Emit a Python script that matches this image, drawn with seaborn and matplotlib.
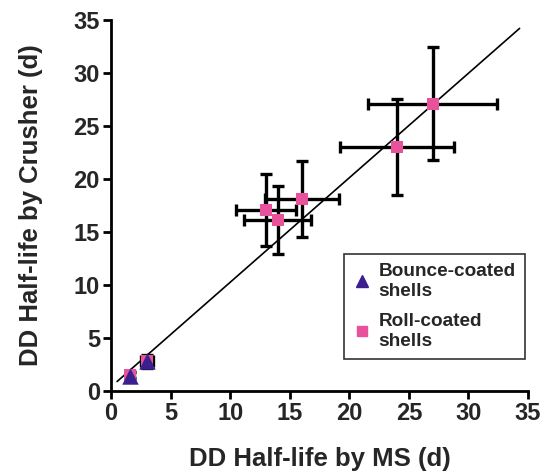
import matplotlib
matplotlib.use("Agg")
import matplotlib.pyplot as plt
import seaborn as sns
import pandas as pd
import numpy as np
from matplotlib.lines import Line2D

# Data
roll_ms = [13.0, 14.0, 16.0, 24.0, 27.0, 1.6, 3.0]
roll_crusher = [17.1, 16.1, 18.1, 23.0, 27.1, 1.5, 2.8]
roll_ms_err = [2.5, 2.8, 3.1, 4.8, 5.4, 0.3, 0.5]
roll_cr_err = [3.4, 3.2, 3.55, 4.55, 5.35, 0.3, 0.6]

bounce_ms = [1.6, 3.0]
bounce_crusher = [1.4, 2.8]

fit_x = [0.5, 34.3]
fit_y = [0.9, 34.2]

x_ticks = [0, 5, 10, 15, 20, 25, 30, 35]
y_ticks = [0, 5, 10, 15, 20, 25, 30, 35]

pink = "#e8529b"
navy = "#3b1f8f"

sns.set_theme(style="ticks")
plt.rcParams["font.family"] = ["Liberation Sans", "DejaVu Sans"]
plt.rcParams["font.weight"] = "bold"

fig = plt.figure(figsize=(5.42, 4.74), dpi=100)
ax = fig.add_axes([0.205, 0.175, 0.769, 0.783])

sns.lineplot(x=fit_x, y=fit_y, ax=ax, color="black", linewidth=1.2, zorder=1)

ax.errorbar(roll_ms, roll_crusher, xerr=roll_ms_err, yerr=roll_cr_err,
            fmt="none", ecolor="black", elinewidth=2.4, capsize=4, capthick=2.4, zorder=2)

df_roll = pd.DataFrame({"ms": roll_ms, "cr": roll_crusher})
sns.scatterplot(data=df_roll, x="ms", y="cr", ax=ax, marker="s", s=85,
                color=pink, edgecolor=pink, linewidth=0, zorder=3)
df_b = pd.DataFrame({"ms": bounce_ms, "cr": bounce_crusher})
sns.scatterplot(data=df_b, x="ms", y="cr", ax=ax, marker="^", s=140,
                color=navy, edgecolor=navy, linewidth=0, zorder=4)

ax.set_xlim(0, 35)
ax.set_ylim(0, 35)
ax.set_xticks(x_ticks)
ax.set_yticks(y_ticks)
ax.set_xticklabels([str(t) for t in x_ticks], fontsize=17, fontweight="bold")
ax.set_yticklabels([str(t) for t in y_ticks], fontsize=17, fontweight="bold")
ax.tick_params(direction="out", length=6, width=2, color="black", pad=2)
for s in ["top", "right"]:
    ax.spines[s].set_visible(False)
for s in ["left", "bottom"]:
    ax.spines[s].set_linewidth(2)
    ax.spines[s].set_color("black")

ax.set_xlabel("DD Half-life by MS (d)", fontsize=18.5, fontweight="bold", labelpad=16)
ax.set_ylabel("DD Half-life by Crusher (d)", fontsize=18.5, fontweight="bold", labelpad=22)

handles = [
    Line2D([], [], marker="^", color=navy, linestyle="none", markersize=8),
    Line2D([], [], marker="s", color=pink, linestyle="none", markersize=7),
]
leg = ax.legend(handles, ["Bounce-coated\nshells", "Roll-coated\nshells"],
                loc="upper left", bbox_to_anchor=(0.537, 0.396), frameon=True,
                fancybox=False, edgecolor="black", handlelength=0.8,
                handletextpad=0.5, borderpad=0.5, labelspacing=0.7,
                prop={"weight": "bold", "size": 13.7})
leg.get_frame().set_linewidth(1.2)

fig.savefig("out.png", dpi=100, facecolor="white")
